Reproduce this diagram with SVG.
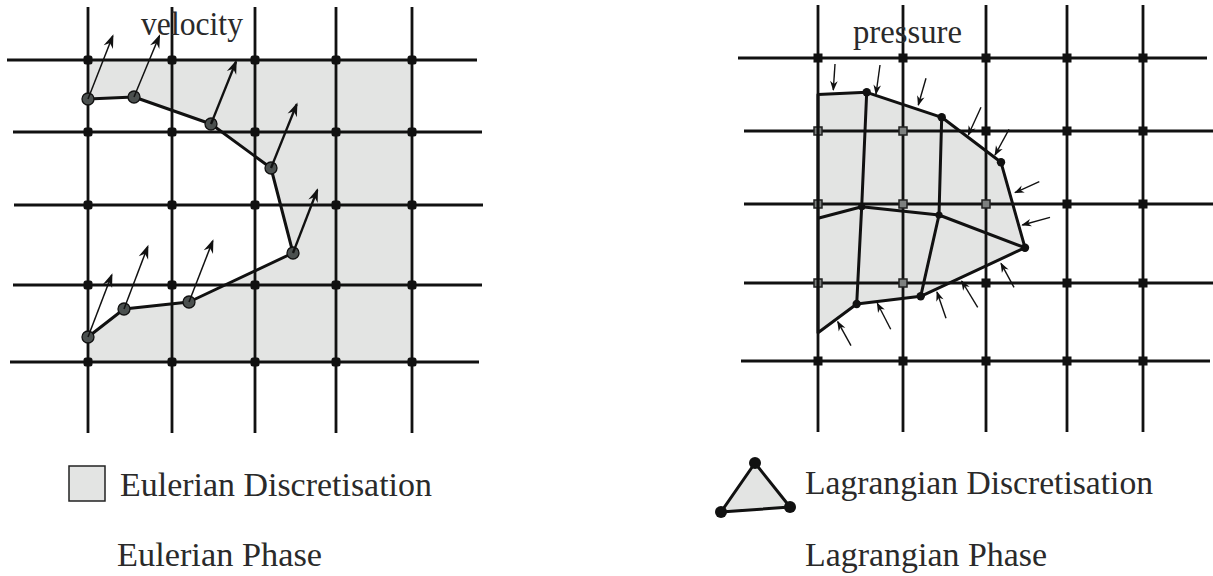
<svg xmlns="http://www.w3.org/2000/svg" width="1213" height="576" viewBox="0 0 1213 576">
<style>
.bg{fill:#ffffff}
.fill{fill:#e3e4e3;stroke:none}
.grid{stroke:#111;stroke-width:2.8;fill:none}
.sq{fill:#111}
.sqin{fill:#7d807f;stroke:#222;stroke-width:1.5}
.mesh{stroke:#111;stroke-width:3;fill:none;stroke-linejoin:round}
.part{fill:#4b504f;stroke:#111;stroke-width:1.3}
.node{fill:#111}
.vel{stroke:#111;stroke-width:1.5;fill:none;marker-end:url(#ah)}
.velb{stroke:#111;stroke-width:2.3;fill:none;marker-end:url(#ah)}
.pr{stroke:#111;stroke-width:1.4;fill:none;marker-end:url(#ahs)}
.txt{font-family:"Liberation Serif","Times New Roman",serif;font-size:33px;fill:#2a2a2a}
</style>
<defs>
<marker id="ah" markerUnits="userSpaceOnUse" viewBox="-15 -6 16 12" markerWidth="16" markerHeight="12" refX="-2" refY="0" orient="auto">
<path d="M0,0 L-14,-5 L-9.5,0 L-14,5 Z" fill="#111"/>
</marker>
<marker id="ahs" markerUnits="userSpaceOnUse" viewBox="-11 -5 12 10" markerWidth="12" markerHeight="10" refX="-1" refY="0" orient="auto">
<path d="M0,0 L-10,-3.8 L-7,0 L-10,3.8 Z" fill="#111"/>
</marker>
</defs>
<rect class="bg" x="0" y="0" width="1213" height="576"/>

<!-- LEFT: Eulerian phase -->
<g id="eulerian-region">
<polygon class="fill" points="88,60 412,60 412,362 88,362 88,337 124,309 189,302 293,253 271,168 211,124 134,97 88,99"/>
</g>
<g id="eulerian-grid">
<line class="grid" x1="7" y1="60" x2="477" y2="60"/>
<line class="grid" x1="13" y1="132" x2="482" y2="132"/>
<line class="grid" x1="14" y1="205" x2="483" y2="205"/>
<line class="grid" x1="13" y1="285" x2="482" y2="285"/>
<line class="grid" x1="10" y1="362" x2="479" y2="362"/>
<line class="grid" x1="88" y1="7" x2="88" y2="433"/>
<line class="grid" x1="172" y1="7" x2="172" y2="433"/>
<line class="grid" x1="255" y1="7" x2="255" y2="433"/>
<line class="grid" x1="336" y1="7" x2="336" y2="433"/>
<line class="grid" x1="412" y1="7" x2="412" y2="433"/>
<g class="sq">
<rect x="83.5" y="55.5" width="9" height="9" rx="2.5"/><rect x="167.5" y="55.5" width="9" height="9" rx="2.5"/><rect x="250.5" y="55.5" width="9" height="9" rx="2.5"/><rect x="331.5" y="55.5" width="9" height="9" rx="2.5"/><rect x="407.5" y="55.5" width="9" height="9" rx="2.5"/>
<rect x="83.5" y="127.5" width="9" height="9" rx="2.5"/><rect x="167.5" y="127.5" width="9" height="9" rx="2.5"/><rect x="250.5" y="127.5" width="9" height="9" rx="2.5"/><rect x="331.5" y="127.5" width="9" height="9" rx="2.5"/><rect x="407.5" y="127.5" width="9" height="9" rx="2.5"/>
<rect x="83.5" y="200.5" width="9" height="9" rx="2.5"/><rect x="167.5" y="200.5" width="9" height="9" rx="2.5"/><rect x="250.5" y="200.5" width="9" height="9" rx="2.5"/><rect x="331.5" y="200.5" width="9" height="9" rx="2.5"/><rect x="407.5" y="200.5" width="9" height="9" rx="2.5"/>
<rect x="83.5" y="280.5" width="9" height="9" rx="2.5"/><rect x="167.5" y="280.5" width="9" height="9" rx="2.5"/><rect x="250.5" y="280.5" width="9" height="9" rx="2.5"/><rect x="331.5" y="280.5" width="9" height="9" rx="2.5"/><rect x="407.5" y="280.5" width="9" height="9" rx="2.5"/>
<rect x="83.5" y="357.5" width="9" height="9" rx="2.5"/><rect x="167.5" y="357.5" width="9" height="9" rx="2.5"/><rect x="250.5" y="357.5" width="9" height="9" rx="2.5"/><rect x="331.5" y="357.5" width="9" height="9" rx="2.5"/><rect x="407.5" y="357.5" width="9" height="9" rx="2.5"/>
</g>
</g>

<!-- RIGHT: Lagrangian phase -->
<g id="lagrangian-region">
<polygon class="fill" points="818,94.5 866.7,92.3 941.7,117.3 1001,162.3 1025,247.7 920.7,296.3 856.7,304 818,332.7"/>
</g>
<g id="lagrangian-grid">
<line class="grid" x1="738" y1="58" x2="1207" y2="58"/>
<line class="grid" x1="744" y1="131" x2="1213" y2="131"/>
<line class="grid" x1="744" y1="204" x2="1213" y2="204"/>
<line class="grid" x1="744" y1="283" x2="1213" y2="283"/>
<line class="grid" x1="741" y1="361" x2="1210" y2="361"/>
<line class="grid" x1="818" y1="5" x2="818" y2="432"/>
<line class="grid" x1="903" y1="5" x2="903" y2="432"/>
<line class="grid" x1="986" y1="5" x2="986" y2="432"/>
<line class="grid" x1="1067" y1="5" x2="1067" y2="432"/>
<line class="grid" x1="1143" y1="5" x2="1143" y2="432"/>
<g class="sq">
<rect x="813.5" y="53.5" width="9" height="9"/><rect x="898.5" y="53.5" width="9" height="9"/><rect x="981.5" y="53.5" width="9" height="9"/><rect x="1062.5" y="53.5" width="9" height="9"/><rect x="1138.5" y="53.5" width="9" height="9"/>
<rect x="981.5" y="126.5" width="9" height="9"/><rect x="1062.5" y="126.5" width="9" height="9"/><rect x="1138.5" y="126.5" width="9" height="9"/>
<rect x="1062.5" y="199.5" width="9" height="9"/><rect x="1138.5" y="199.5" width="9" height="9"/>
<rect x="981.5" y="278.5" width="9" height="9"/><rect x="1062.5" y="278.5" width="9" height="9"/><rect x="1138.5" y="278.5" width="9" height="9"/>
<rect x="813.5" y="356.5" width="9" height="9"/><rect x="898.5" y="356.5" width="9" height="9"/><rect x="981.5" y="356.5" width="9" height="9"/><rect x="1062.5" y="356.5" width="9" height="9"/><rect x="1138.5" y="356.5" width="9" height="9"/>
</g>
<g class="sqin">
<rect x="814" y="127" width="8" height="8"/><rect x="899" y="127" width="8" height="8"/>
<rect x="814" y="200" width="8" height="8"/><rect x="899" y="200" width="8" height="8"/><rect x="982" y="200" width="8" height="8"/>
<rect x="814" y="279" width="8" height="8"/><rect x="899" y="279" width="8" height="8"/>
</g>
</g>

<g id="connectors">
<!-- Eulerian particle chain -->
<polyline class="mesh" points="88,99 134,97 211,124 271,168 293,253 189,302 124,309 88,337"/>
<!-- Lagrangian mesh -->
<polygon class="mesh" points="818,94.5 866.7,92.3 941.7,117.3 1001,162.3 1025,247.7 920.7,296.3 856.7,304 818,332.7"/>
<polyline class="mesh" points="866.7,92.3 861.7,206.7 856.7,304"/>
<polyline class="mesh" points="941.7,117.3 939,215 920.7,296.3"/>
<polyline class="mesh" points="818,218.3 861.7,206.7 939,215 1025,247.7"/>
</g>

<g id="particles">
<g id="p1"><circle class="part" cx="88" cy="99" r="6"/></g>
<g id="p2"><circle class="part" cx="134" cy="97" r="6"/></g>
<g id="p3"><circle class="part" cx="211" cy="124" r="6"/></g>
<g id="p4"><circle class="part" cx="271" cy="168" r="6"/></g>
<g id="p5"><circle class="part" cx="293" cy="253" r="6"/></g>
<g id="p6"><circle class="part" cx="189" cy="302" r="6"/></g>
<g id="p7"><circle class="part" cx="124" cy="309" r="6"/></g>
<g id="p8"><circle class="part" cx="88" cy="337" r="6"/></g>
</g>

<g id="mesh-nodes">
<g id="m1"><circle class="node" cx="866.7" cy="92.3" r="4.2"/></g>
<g id="m2"><circle class="node" cx="941.7" cy="117.3" r="4.2"/></g>
<g id="m3"><circle class="node" cx="1001" cy="162.3" r="4.2"/></g>
<g id="m4"><circle class="node" cx="1025" cy="247.7" r="4.2"/></g>
<g id="m5"><circle class="node" cx="920.7" cy="296.3" r="4.2"/></g>
<g id="m6"><circle class="node" cx="856.7" cy="304" r="4.2"/></g>
<g id="m7"><circle class="node" cx="861.7" cy="206.7" r="3.6"/></g>
<g id="m8"><circle class="node" cx="939" cy="215" r="3.6"/></g>
</g>

<g id="arrows">
<line class="vel" x1="88" y1="99" x2="112.7" y2="36"/>
<line class="vel" x1="134" y1="97" x2="159.3" y2="36"/>
<line class="velb" x1="211" y1="124" x2="236" y2="61.7"/>
<line class="velb" x1="271" y1="168" x2="296.7" y2="104.3"/>
<line class="velb" x1="293" y1="253" x2="317.3" y2="190"/>
<line class="vel" x1="189" y1="302" x2="212.7" y2="241"/>
<line class="vel" x1="124" y1="309" x2="147.7" y2="246.7"/>
<line class="vel" x1="88" y1="337" x2="111.7" y2="275"/>

<line class="pr" x1="835" y1="64" x2="833.3" y2="90"/>
<line class="pr" x1="880" y1="65" x2="876" y2="94"/>
<line class="pr" x1="926" y1="78.3" x2="918.3" y2="105"/>
<line class="pr" x1="981" y1="107.3" x2="968.3" y2="135"/>
<line class="pr" x1="1009" y1="129.3" x2="995" y2="155"/>
<line class="pr" x1="1039.3" y1="181.7" x2="1015" y2="192.7"/>
<line class="pr" x1="1050" y1="217.3" x2="1022.3" y2="225"/>
<line class="pr" x1="1014" y1="287.3" x2="1001" y2="263.3"/>
<line class="pr" x1="977.7" y1="307.3" x2="961.7" y2="281"/>
<line class="pr" x1="946" y1="318.3" x2="937" y2="292"/>
<line class="pr" x1="890.7" y1="329.3" x2="877.3" y2="303.3"/>
<line class="pr" x1="851" y1="345.7" x2="837.7" y2="321.7"/>
</g>

<g id="label-velocity"><text class="txt" x="141" y="35" font-size="32" textLength="102" lengthAdjust="spacingAndGlyphs">velocity</text></g>
<g id="label-pressure"><text class="txt" x="853" y="43" font-size="32" textLength="109" lengthAdjust="spacingAndGlyphs">pressure</text></g>

<g id="legend-eulerian">
<rect x="69" y="466" width="36" height="35" fill="#e3e4e3" stroke="#222" stroke-width="1.5"/>
<text class="txt" x="120" y="496" textLength="312" lengthAdjust="spacingAndGlyphs">Eulerian Discretisation</text>
</g>
<g id="legend-lagrangian">
<polygon points="755,463 721,512 790,507" fill="#e3e4e3" stroke="#111" stroke-width="3" stroke-linejoin="round"/>
<circle cx="755" cy="463" r="6" fill="#111"/>
<circle cx="721" cy="512" r="6" fill="#111"/>
<circle cx="790" cy="507" r="6" fill="#111"/>
<text class="txt" x="805" y="494" textLength="348" lengthAdjust="spacingAndGlyphs">Lagrangian Discretisation</text>
</g>
<g id="title-eulerian"><text class="txt" x="117" y="566" textLength="205" lengthAdjust="spacingAndGlyphs">Eulerian Phase</text></g>
<g id="title-lagrangian"><text class="txt" x="805" y="566" textLength="242" lengthAdjust="spacingAndGlyphs">Lagrangian Phase</text></g>
</svg>
